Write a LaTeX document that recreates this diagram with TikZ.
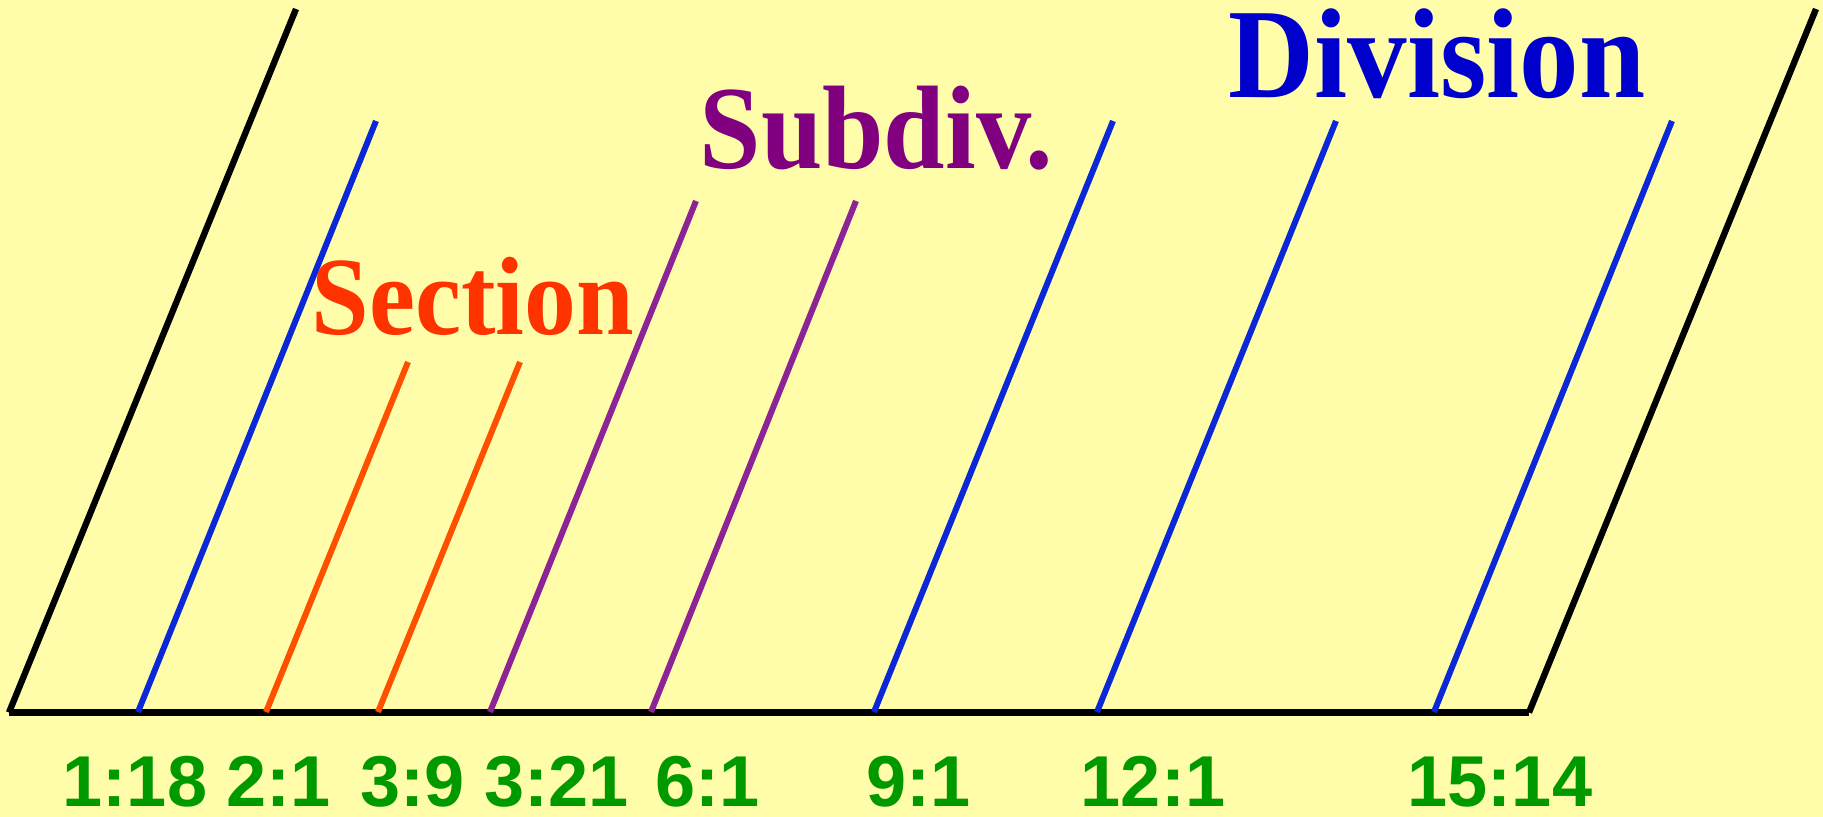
\documentclass[tikz,border=0pt]{standalone}
\usepackage{fontspec}
\setmainfont{Liberation Serif}
\setsansfont{Liberation Sans}
\usepackage{tikz}
\usetikzlibrary{positioning}
\usepackage{xcolor}

\definecolor{paper}{HTML}{FFFDAA}
\definecolor{lineblue}{HTML}{0A28D8}
\definecolor{lineorange}{HTML}{FF5000}
\definecolor{linepurple}{HTML}{8C2496}
\definecolor{sectred}{HTML}{FF3300}
\definecolor{subpurple}{HTML}{800080}
\definecolor{divblue}{HTML}{0000CC}
\definecolor{refgreen}{HTML}{009900}

\newcommand{\narrowtxt}[1]{\scalebox{0.93}[1]{#1}}

\tikzset{
  edge/.style={black, line width=1.8pt},
  division/.style={lineblue, line width=1.7pt},
  section/.style={lineorange, line width=1.7pt},
  subdiv/.style={linepurple, line width=1.7pt},
  title/.style={inner sep=0pt, anchor=base west, font=\bfseries},
  ref/.style={inner sep=0pt, anchor=base, text=refgreen,
    font=\sffamily\bfseries\fontsize{20.5pt}{24pt}\selectfont}
}

\begin{document}
\begin{tikzpicture}
  \fill[paper] (0,0) rectangle (18.23,8.17);
  \useasboundingbox (0,0) rectangle (18.23,8.17);

  % outer frame
  \draw[black, line width=2.2pt] (0.09,1.045) -- (15.29,1.045);
  \draw[edge] (0.09,1.045) -- (2.96,8.08);
  \draw[edge] (15.29,1.045) -- (18.16,8.08);

  % divisions
  \draw[division] (1.38,1.05) -- (3.76,6.96);
  \draw[division] (8.74,1.05) -- (11.13,6.96);
  \draw[division] (10.97,1.05) -- (13.36,6.96);
  \draw[division] (14.34,1.05) -- (16.72,6.96);

  % sections
  \draw[section] (2.66,1.05) -- (4.08,4.55);
  \draw[section] (3.78,1.05) -- (5.20,4.55);

  % subdivisions
  \draw[subdiv] (4.90,1.05) -- (6.96,6.16);
  \draw[subdiv] (6.51,1.05) -- (8.56,6.16);

  % headings
  \node[title, text=sectred] (sectlbl) at (3.11,4.82)
    {\fontsize{31.7pt}{38pt}\selectfont\narrowtxt{Section}};
  \node[title, text=subpurple] (sublbl) at (6.99,6.48)
    {\fontsize{33.8pt}{40pt}\selectfont\narrowtxt{Subdiv.}};
  \node[title, text=divblue] (divlbl) at (12.28,7.19)
    {\fontsize{36.4pt}{44pt}\selectfont\narrowtxt{Division}};

  % references
  \node[ref] (r1) at (1.35,0.1) {1:18};
  \node[ref] (r2) at (2.785,0.1) {2:1};
  \node[ref] (r3) at (4.125,0.1) {3:9};
  \node[ref] (r4) at (5.565,0.1) {3:21};
  \node[ref] (r5) at (7.075,0.1) {6:1};
  \node[ref] (r6) at (9.185,0.1) {9:1};
  \node[ref] (r7) at (11.53,0.1) {12:1};
  \node[ref] (r8) at (15.00,0.1) {15:14};
\end{tikzpicture}
\end{document}
